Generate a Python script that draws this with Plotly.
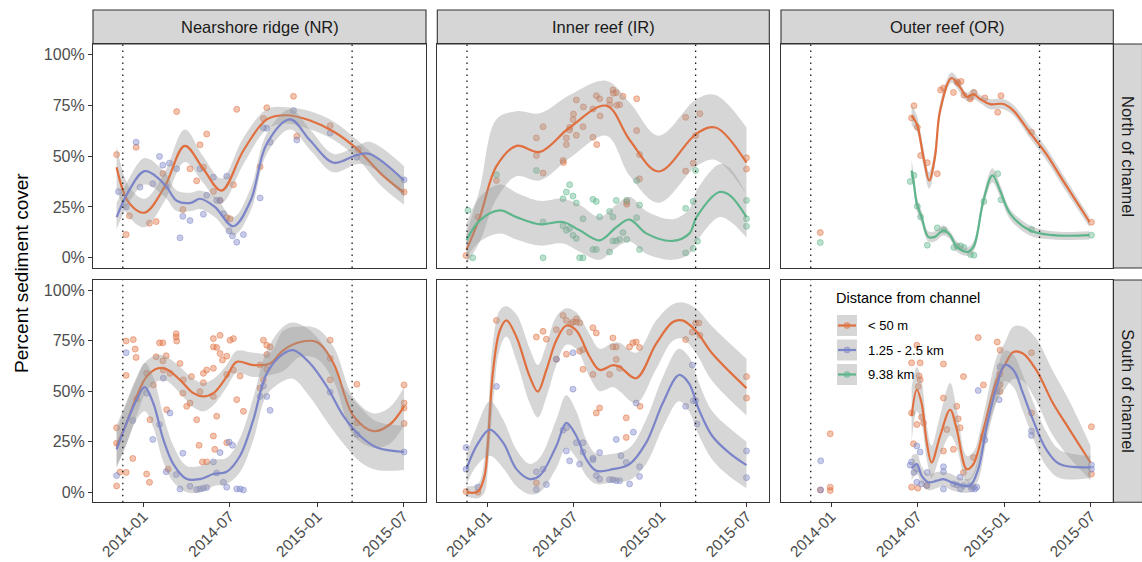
import pandas as pd
import plotly.graph_objects as go

# ---------------------------------------------------------------------------
# Survey data: x = days since 2014-01-01, y = percent sediment cover
# Fits: (day, smoothed fit, lower 95% CI, upper 95% CI)
# ---------------------------------------------------------------------------
ORIGIN = "2014-01-01"

SITES = ["Nearshore ridge (NR)", "Inner reef (IR)", "Outer reef (OR)"]
SIDES = ["North of channel", "South of channel"]
DISTANCES = ["< 50 m", "1.25 - 2.5 km", "9.38 km"]
DIST_COLORS = ["#E06F3F", "#7B84C8", "#5DB58B"]
Y_TICKS = [0, 25, 50, 75, 100]
Y_TICK_LABELS = ["0%", "25%", "50%", "75%", "100%"]
X_TICKS = ["2014-01-01", "2014-07-01", "2015-01-01", "2015-07-01"]
X_TICK_LABELS = ["2014-01", "2014-07", "2015-01", "2015-07"]
PERIOD_BOUNDS = ["2013-11-19", "2015-03-15"]

# --- Nearshore ridge, north ---
NR_N_NEAR_PTS = [(-56, 50.7), (-36, 11.4), (-29, 20.6), (-15, 54.3), (13, 17), (27, 17.8), (41, 41.4),
                 (70, 71.8), (83, 23.7), (98, 43.7), (112, 37.8), (119, 55.5), (126, 44.5), (133, 60.8),
                 (147, 32.6), (161, 28.2), (175, 19.7), (182, 19.2), (189, 35.9), (196, 72.9), (245, 44.7),
                 (252, 68.4), (259, 73.7), (315, 79.3), (322, 59.7), (392, 64.9), (451, 53.2), (547, 32.3)]
NR_N_NEAR_FIT = [(-56, 44.5, 34, 55), (-30, 27, 20, 35), (3, 22.2, 15, 29), (45, 35, 28, 42),
                 (87, 55, 47, 63), (125, 44, 37, 50), (164, 33, 27, 39), (210, 52.7, 46, 59),
                 (259, 68, 63, 73), (301, 70, 66, 74), (350, 67.4, 63, 72), (399, 62, 58, 67),
                 (448, 53.5, 49, 58), (500, 41, 35, 47), (547, 32, 26, 38)]
NR_N_MID_PTS = [(-52, 32.5), (-36, 25), (-15, 56.8), (-7, 34.7), (20, 36.4), (34, 49.8), (41, 45.5),
                (48, 35.1), (55, 46.5), (70, 43.7), (77, 9.8), (83, 20.4), (98, 18.3), (119, 43.7),
                (126, 21.4), (133, 30.7), (147, 39.6), (154, 28.2), (161, 28.2), (168, 21.7), (175, 40.1),
                (180, 13.2), (187, 10.8), (196, 7.7), (210, 11.4), (245, 29.4), (252, 63.8), (259, 63.6),
                (266, 56.8), (315, 72.3), (322, 57.9), (392, 61.3), (448, 49.4), (547, 38.3)]
NR_N_MID_FIT = [(-56, 20, 14, 27), (-30, 33, 27, 39), (3, 42.6, 36, 49), (45, 36, 30, 42),
                (70, 28, 23, 33), (100, 27, 23, 32), (119, 29, 24, 33), (150, 25, 20, 30),
                (189, 15.5, 11, 20), (225, 28, 23, 34), (259, 56, 51, 61), (308, 68, 63, 73),
                (350, 57.6, 53, 63), (399, 46.7, 42, 51), (448, 50.5, 46, 55), (475, 51, 45, 57),
                (547, 38, 30, 45)]

# --- Inner reef, north ---
IR_N_NEAR_PTS = [(-45, 1.1), (-20, 20), (19, 38), (103, 58.9), (103, 50.2), (117, 64.4), (117, 41.6),
                 (159, 47.8), (160, 46.8), (166, 58.9), (166, 55.6), (173, 64.1), (173, 62.8), (180, 67.9),
                 (181, 70.6), (187, 60.2), (187, 77.5), (201, 64.4), (202, 74.1), (222, 59.2), (222, 73.1),
                 (229, 79.6), (230, 55.6), (236, 78.1), (237, 69.7), (257, 77.5), (257, 75.2), (264, 82.4),
                 (265, 80.8), (271, 81.1), (272, 74.9), (278, 75.2), (285, 79.3), (314, 78.1), (314, 62.5),
                 (320, 50.7), (320, 38.8), (293, 27.4), (293, 26.3), (417, 69), (417, 42.6), (433, 46.5),
                 (438, 60), (447, 70.8), (545, 49.1), (545, 43.6)]
IR_N_NEAR_FIT = [(-44, 4, -3, 12), (-16, 20, 8, 34), (19, 45, 29, 68), (61, 55, 40, 72),
                 (110, 52, 38, 71), (173, 64, 49, 80), (250, 74.7, 60, 87), (300, 57.6, 40, 76),
                 (360, 42.4, 27, 60), (440, 61, 45, 78), (480, 64, 48, 80), (545, 46.7, 31, 64)]
IR_N_FAR_PTS = [(-41, 23.3), (-31, 0), (19, 40.8), (103, 42.9), (117, 0), (117, 17.6), (159, 29),
                (166, 32.3), (173, 35.9), (180, 30.3), (187, 26.9), (159, 15.7), (166, 13.5), (173, 14.4),
                (180, 11.1), (187, 9.5), (194, 0), (201, 0), (201, 19.2), (222, 28.7), (229, 27.7),
                (222, 4.1), (229, 4.1), (236, 20.1), (257, 2.9), (257, 22.8), (264, 20.1), (271, 28.2),
                (264, 8.3), (271, 8.3), (278, 9), (285, 12.4), (293, 9), (293, 28.2), (314, 19.7),
                (314, 38), (320, 25.9), (320, 4.1), (417, 24.3), (417, 2.4), (433, 27.7), (433, 4.6),
                (438, 42.9), (442, 8.2), (545, 28.2), (545, 19.2), (545, 15.5)]
IR_N_FAR_FIT = [(-44, 8.6, 0, 17), (-16, 18.4, 8, 30), (26, 23.3, 12, 36), (61, 20, 9, 32),
                (110, 16.5, 6, 28), (159, 17.6, 7, 29), (194, 13.5, 3, 26), (236, 8.6, -1, 20),
                (271, 15, 5, 26), (299, 18.8, 8, 30), (334, 12, 2, 23), (390, 8.3, -1, 19),
                (425, 12, 2, 24), (440, 20, 8, 33), (488, 32.3, 20, 46), (510, 30.7, 18, 44),
                (545, 20, 10, 31)]

# --- Outer reef, north ---
OR_N_NEAR_PTS = [(-23, 12.4), (169, 68.7), (174, 74.7), (181, 64.1), (188, 50.2), (202, 46.7), (223, 41.3),
                 (230, 82.4), (236, 83.4), (257, 81.2), (264, 86.5), (267, 85.8), (273, 86.6), (279, 79.9),
                 (292, 78), (294, 78.8), (300, 81.2), (323, 78.5), (350, 71.5), (357, 79.6), (421, 61.7),
                 (547, 17.5)]
OR_N_NEAR_FIT = [(169, 69.8, 65, 75), (180, 65.7, 62, 70), (194, 49.4, 45, 54), (206, 38, 34, 42),
                 (218, 49.4, 45, 54), (229, 72.3, 69, 76), (253, 88.3, 86, 91), (271, 83.7, 81, 86),
                 (285, 79.1, 77, 81), (299, 80.4, 78, 83), (313, 78, 76, 80), (334, 75.5, 73, 78),
                 (362, 75.5, 73, 78), (383, 72.3, 70, 75), (417, 61.7, 59, 65), (452, 51, 48, 54),
                 (487, 38, 35, 41), (543, 17.6, 15, 20)]
OR_N_FAR_PTS = [(-23, 7.5), (166, 37.5), (174, 40.5), (181, 25.3), (188, 20.1), (202, 6.2), (223, 14.7),
                (237, 13.5), (258, 5.1), (265, 5.7), (272, 5.9), (279, 5.1), (293, 1.6), (300, 1.3),
                (321, 27.7), (350, 41.3), (357, 28.5), (421, 13.9), (547, 11.1)]
OR_N_FAR_FIT = [(169, 42.9, 38, 48), (173, 38, 34, 42), (180, 26.6, 23, 30), (190, 20, 17, 23),
                (204, 10.3, 8, 13), (218, 10.3, 8, 13), (236, 13.5, 11, 16), (250, 11.1, 9, 13),
                (264, 5.4, 3, 8), (285, 2.9, 1, 5), (299, 5.4, 3, 8), (320, 28.2, 25, 31),
                (339, 40.5, 37, 44), (355, 33.1, 30, 36), (376, 21.7, 19, 24), (417, 13.5, 11, 16),
                (466, 11.1, 9, 13), (543, 11.1, 9, 13)]

# --- Nearshore ridge, south ---
NR_S_NEAR_PTS = [(-56, 31.9), (-56, 24.2), (-56, 3.1), (-49, 10), (-36, 9.8), (-36, 57.8), (-36, 74.8),
                 (-22, 16.7), (-21, 75.5), (-17, 70.8), (-15, 66.7), (-14, 46.1), (7, 9), (13, 4.9),
                 (7, 58.8), (14, 35.9), (21, 53.1), (27, 67), (34, 73.9), (41, 73.9), (41, 65), (42, 60.5),
                 (48, 67.5), (49, 40.8), (52, 11.4), (56, 58.8), (69, 78.4), (69, 76.8), (70, 74.8),
                 (77, 63.7), (83, 49), (84, 55.6), (91, 42.5), (98, 44.1), (101, 57.2), (112, 35.9),
                 (117, 23.2), (119, 49.8), (124, 15), (126, 58.8), (126, 54.2), (133, 60.5), (133, 15),
                 (147, 76), (147, 71.9), (147, 61.3), (147, 47.4), (147, 27.8), (150, 21.2), (154, 71.6),
                 (154, 37.6), (161, 77.6), (161, 68.6), (166, 65.4), (175, 58.3), (175, 67.3), (175, 24.5),
                 (182, 75.2), (189, 76), (189, 60.5), (196, 45.8), (203, 57.5), (210, 40), (245, 62.9),
                 (245, 51.5), (252, 75.2), (252, 55.6), (259, 72.7), (259, 68.1), (259, 60.8), (266, 71.9),
                 (392, 75.2), (392, 66.2), (392, 55.6), (448, 53.4), (448, 34.3), (547, 53.1), (547, 44.1),
                 (547, 41.7), (547, 34)]
NR_S_NEAR_FIT = [(-56, 22.9, 13, 33), (-35, 34.3, 24, 45), (-14, 47.4, 38, 57), (7, 57.2, 50, 65),
                 (31, 61.3, 55, 68), (49, 60.8, 55, 67), (77, 55.6, 49, 62), (105, 49, 42, 56),
                 (126, 47.4, 40, 54), (147, 49, 43, 56), (175, 57.2, 52, 63), (196, 64.5, 59, 70),
                 (231, 62.9, 57, 69), (266, 63.7, 58, 69), (294, 70.3, 60, 80), (329, 74.3, 67, 82),
                 (364, 74.3, 66, 81), (399, 63.7, 55, 72), (441, 37.6, 28, 47), (483, 30.2, 22, 39),
                 (517, 33.5, 24, 42), (547, 42.5, 33, 52)]
NR_S_MID_PTS = [(-56, 8.2), (-36, 69), (-22, 35.5), (7, 49), (20, 26.1), (34, 33.5), (42, 56.4), (48, 10.1),
                (56, 39.2), (69, 8.7), (77, 1.6), (83, 19.3), (98, 2.9), (112, 1.3), (119, 1.6), (126, 2),
                (133, 2.3), (147, 15), (154, 9.5), (161, 19.6), (168, 4.9), (175, 2.5), (180, 24.8),
                (187, 23.2), (196, 1.6), (203, 1.6), (210, 1.1), (245, 47.4), (252, 52.6), (259, 47.4),
                (266, 40.5), (392, 49.5), (448, 28.6), (547, 19.9)]
NR_S_MID_FIT = [(-56, 21.2, 12, 30), (-35, 34.3, 24, 44), (-14, 45.8, 36, 56), (3, 52, 40, 64),
                (21, 44, 32, 57), (42, 26.1, 15, 38), (63, 13.9, 5, 23), (91, 6.5, 0, 13),
                (119, 6.5, 0, 13), (147, 9, 3, 16), (175, 10.1, 4, 17), (203, 18, 10, 27),
                (231, 36, 26, 47), (259, 58.8, 48, 70), (294, 68.6, 55, 82), (315, 70.3, 56, 84),
                (350, 63.7, 47, 80), (385, 52.3, 35, 70), (420, 37.6, 24, 52), (455, 27.8, 15, 42),
                (490, 22.1, 11, 35), (547, 19.9, 11, 33)]

# --- Inner reef, south ---
IR_S_NEAR_PTS = [(-45, 0.3), (-20, 0), (19, 85), (103, 76.8), (103, 4.6), (117, 79.6), (124, 75.7),
                 (145, 80.4), (145, 65.8), (159, 87.4), (166, 85), (166, 68.3), (173, 79.2), (176, 83.3),
                 (180, 84.2), (187, 85.8), (187, 84.2), (194, 83.8), (194, 69.8), (201, 70.6), (201, 60.8),
                 (222, 81.4), (222, 58.3), (229, 78.8), (229, 39.2), (236, 41.7), (257, 58.3), (264, 76.3),
                 (264, 71.9), (271, 71.9), (271, 65.7), (278, 61.3), (292, 36.8), (292, 27.1), (299, 71.9),
                 (306, 73.9), (313, 74.3), (320, 71.6), (321, 42.5), (417, 75.5), (431, 79.2), (438, 83.7),
                 (445, 83.7), (447, 77.6), (545, 57.2), (545, 46.6)]
IR_S_NEAR_FIT = [(-44, 0, -2, 3), (-20, 0.3, -3, 4), (-6, 8.2, 0, 17), (1, 24.5, 12, 37),
                 (12, 60.5, 45, 75), (26, 80, 71, 90), (40, 85, 77, 92), (61, 76.8, 65, 88),
                 (89, 57.2, 44, 71), (106, 49.8, 37, 63), (124, 60.5, 47, 73), (145, 75.2, 63, 87),
                 (166, 82.5, 73, 91), (187, 80, 71, 89), (215, 67, 57, 78), (236, 60.5, 50, 71),
                 (264, 62.9, 52, 74), (278, 62.1, 50, 74), (313, 56.4, 44, 69), (355, 73.5, 61, 85),
                 (390, 84.2, 75, 93), (410, 85, 76, 94), (438, 80, 69, 91), (473, 68.6, 55, 82),
                 (545, 51.5, 38, 66)]
IR_S_MID_PTS = [(-45, 22.1), (-45, 11.4), (-20, 2.5), (19, 52.3), (103, 10.1), (103, 1.3), (117, 11.4),
                (124, 3.8), (145, 65.8), (159, 30.7), (166, 31.9), (166, 20.4), (173, 15.5), (180, 69),
                (180, 51), (187, 24.5), (194, 13.9), (201, 24.5), (201, 19.9), (222, 16.8), (222, 16),
                (229, 8.2), (236, 19.6), (236, 6.5), (257, 6.2), (264, 6.2), (271, 26.1), (271, 5.7),
                (278, 5.7), (281, 18), (292, 14.7), (299, 4.1), (307, 29.7), (313, 44.1), (320, 12.6),
                (320, 7.8), (417, 42.5), (431, 62.9), (433, 45.3), (438, 45.4), (441, 33.8), (545, 20.4),
                (545, 7.2)]
IR_S_MID_FIT = [(-44, 11.4, 4, 19), (-23, 22.9, 13, 32), (5, 31, 18, 45), (33, 24.5, 12, 36),
                (61, 11.4, 3, 21), (89, 6.5, -1, 14), (110, 8.2, 0, 17), (145, 22.9, 12, 36),
                (166, 34.3, 22, 48), (187, 27.8, 17, 40), (208, 16.3, 8, 26), (229, 10.6, 4, 19),
                (264, 11.4, 5, 19), (299, 13.9, 6, 22), (334, 24.5, 14, 36), (369, 44.1, 32, 57),
                (403, 58, 45, 71), (424, 53.9, 40, 67), (445, 40.8, 28, 54), (473, 27.8, 16, 40),
                (508, 19.6, 8, 32), (545, 13.4, 2, 25)]

# --- Outer reef, south ---
OR_S_NEAR_PTS = [(-23, 1.1), (-2, 2.5), (-2, 0.8), (-2, 28.9), (169, 64), (169, 39.2), (169, 2.5),
                 (173, 24), (180, 72.7), (180, 33.5), (182, 2), (183, 52.3), (185, 57.5), (187, 64),
                 (187, 55.6), (190, 37.1), (194, 34.3), (201, 3.3), (236, 63.4), (236, 46.6), (236, 20.4),
                 (243, 31), (257, 21.2), (264, 42.5), (267, 36.3), (271, 31.9), (278, 57.2), (278, 9.8),
                 (299, 17.2), (309, 76.5), (320, 53.1), (349, 74.3), (355, 70.3), (355, 58.5), (355, 53.1),
                 (355, 49.8), (421, 69), (421, 39.2), (547, 32.4), (547, 9)]
OR_S_NEAR_FIT = [(169, 37.6, 25, 52), (180, 50.7, 40, 62), (190, 44.1, 34, 55), (201, 24.5, 16, 33),
                 (211, 14.7, 7, 23), (229, 27.8, 18, 38), (250, 40.8, 28, 54), (264, 31, 22, 41),
                 (285, 11.4, 5, 18), (299, 13.9, 8, 20), (320, 31, 24, 38), (348, 55.6, 45, 67),
                 (365, 62.9, 51, 74), (383, 69.4, 56, 82), (403, 68.6, 55, 82), (431, 60.5, 45, 76),
                 (466, 44.1, 28, 60), (501, 31, 17, 45), (545, 14.7, 6, 23)]
OR_S_MID_PTS = [(-22, 15.5), (-22, 1.1), (166, 13.4), (169, 15), (174, 9.8), (180, 22.9), (180, 11.4),
                (180, 4.9), (187, 19.9), (190, 4.1), (201, 3.3), (202, 9.8), (236, 12.6), (236, 10.1),
                (236, 1.6), (257, 4.1), (264, 3.6), (271, 7.4), (272, 1.6), (278, 3.3), (292, 3.3),
                (295, 1.6), (299, 2.5), (302, 1.6), (306, 2.5), (309, 50.3), (320, 27.8), (323, 25.8),
                (349, 49.8), (353, 45.8), (355, 62.1), (421, 30.2), (421, 28.1), (547, 13.4), (547, 11.4)]
OR_S_MID_FIT = [(169, 11.8, 6, 18), (180, 13.9, 9, 19), (190, 8.2, 4, 13), (204, 4.9, 1, 9),
                (222, 5.7, 2, 10), (236, 6.5, 3, 10), (253, 4.9, 1, 9), (271, 3.6, 0, 7),
                (292, 3.3, 0, 7), (309, 11.4, 6, 17), (327, 32.7, 26, 39), (348, 52.3, 45, 60),
                (365, 62.9, 55, 70), (383, 60.5, 52, 68), (403, 49, 40, 58), (424, 35.9, 27, 45),
                (452, 21.2, 13, 30), (480, 13.9, 7, 21), (545, 12.3, 7, 18)]

# (row, col, [(distance index, points, fit), ...])
PANELS = [
    (0, 0, [(0, NR_N_NEAR_PTS, NR_N_NEAR_FIT), (1, NR_N_MID_PTS, NR_N_MID_FIT)]),
    (0, 1, [(0, IR_N_NEAR_PTS, IR_N_NEAR_FIT), (2, IR_N_FAR_PTS, IR_N_FAR_FIT)]),
    (0, 2, [(0, OR_N_NEAR_PTS, OR_N_NEAR_FIT), (2, OR_N_FAR_PTS, OR_N_FAR_FIT)]),
    (1, 0, [(0, NR_S_NEAR_PTS, NR_S_NEAR_FIT), (1, NR_S_MID_PTS, NR_S_MID_FIT)]),
    (1, 1, [(0, IR_S_NEAR_PTS, IR_S_NEAR_FIT), (1, IR_S_MID_PTS, IR_S_MID_FIT)]),
    (1, 2, [(0, OR_S_NEAR_PTS, OR_S_NEAR_FIT), (1, OR_S_MID_PTS, OR_S_MID_FIT)]),
]

# ---------------------------------------------------------------------------
# Page geometry (pixels)
# ---------------------------------------------------------------------------
W, H = 1142, 562
COL_PX = [(93, 426), (437.3, 769.3), (781, 1113.3)]
ROW_PX = [(44, 268), (280, 502.3)]
STRIP_TOP = (10, 44)
STRIP_RIGHT = (1113.3, 1142.5)
X_RANGE = ["2013-09-17 12:00", "2015-08-17"]
Y_RANGE = [-5, 105]

FONT = "Liberation Sans, Arial, Helvetica, sans-serif"
BORDER = "#333333"
STRIP_FILL = "#D6D6D6"
RIBBON = "rgba(153,153,153,0.4)"


def px_x(p):
    return p / W


def px_y(p):
    return 1 - p / H


def rgba(hex_color, a):
    h = hex_color.lstrip("#")
    r, g, b = int(h[0:2], 16), int(h[2:4], 16), int(h[4:6], 16)
    return f"rgba({r},{g},{b},{a})"


def to_dates(days):
    base = pd.Timestamp(ORIGIN)
    return [base + pd.Timedelta(days=float(d)) for d in days]


fig = go.Figure()

for row, col, series in PANELS:
    idx = row * 3 + col + 1
    xa = "x" if idx == 1 else f"x{idx}"
    ya = "y" if idx == 1 else f"y{idx}"

    # raw observations underneath
    for d_i, pts, _ in series:
        c = DIST_COLORS[d_i]
        fig.add_trace(go.Scatter(
            x=to_dates([p[0] for p in pts]), y=[p[1] for p in pts],
            mode="markers", xaxis=xa, yaxis=ya, showlegend=False, hoverinfo="skip",
            marker=dict(size=6, color=rgba(c, 0.42), line=dict(color=rgba(c, 0.55), width=0.9)),
        ))

    # smoothed trend with confidence band
    for d_i, _, fit in series:
        c = DIST_COLORS[d_i]
        xs = to_dates([f[0] for f in fit])
        fig.add_trace(go.Scatter(
            x=xs, y=[f[2] for f in fit], mode="lines", xaxis=xa, yaxis=ya,
            line=dict(width=0, shape="spline", smoothing=1.0), showlegend=False, hoverinfo="skip",
        ))
        fig.add_trace(go.Scatter(
            x=xs, y=[f[3] for f in fit], mode="lines", xaxis=xa, yaxis=ya, fill="tonexty",
            fillcolor=RIBBON, line=dict(width=0, shape="spline", smoothing=1.0),
            showlegend=False, hoverinfo="skip",
        ))
        fig.add_trace(go.Scatter(
            x=xs, y=[f[1] for f in fit], mode="lines", xaxis=xa, yaxis=ya,
            line=dict(color=c, width=2.2, shape="spline", smoothing=1.0),
            showlegend=False, hoverinfo="skip",
        ))

shapes = []
annotations = []
layout_axes = {}

for row in range(2):
    for col in range(3):
        idx = row * 3 + col + 1
        xkey = "xaxis" if idx == 1 else f"xaxis{idx}"
        ykey = "yaxis" if idx == 1 else f"yaxis{idx}"
        xa = "x" if idx == 1 else f"x{idx}"
        ya = "y" if idx == 1 else f"y{idx}"
        x0, x1 = COL_PX[col]
        y0, y1 = ROW_PX[row]
        bottom = row == 1
        left = col == 0
        layout_axes[xkey] = dict(
            domain=[px_x(x0), px_x(x1)], anchor=ya, type="date", range=X_RANGE,
            showline=True, mirror=True, linecolor=BORDER, linewidth=1.1,
            showgrid=False, zeroline=False, automargin=False,
            tickvals=X_TICKS, ticktext=X_TICK_LABELS,
            ticks="outside" if bottom else "", ticklen=4, tickwidth=1.1, tickcolor=BORDER,
            showticklabels=bottom, tickangle=-45, ticklabelstandoff=-6,
            tickfont=dict(family=FONT, size=15.5, color="#4D4D4D"),
        )
        layout_axes[ykey] = dict(
            domain=[px_y(y1), px_y(y0)], anchor=xa, range=Y_RANGE,
            showline=True, mirror=True, linecolor=BORDER, linewidth=1.1,
            showgrid=False, zeroline=False, automargin=False,
            tickvals=Y_TICKS, ticktext=Y_TICK_LABELS,
            ticks="outside" if left else "", ticklen=4, tickwidth=1.1, tickcolor=BORDER,
            showticklabels=left,
            tickfont=dict(family=FONT, size=16, color="#4D4D4D"),
        )
        # dotted period boundaries
        for d in PERIOD_BOUNDS:
            shapes.append(dict(
                type="line", xref=xa, yref=f"{ya} domain", x0=d, x1=d, y0=0, y1=1,
                line=dict(color="#1A1A1A", width=1.3, dash="1.5px,4.5px"), layer="above",
            ))

# column strips
for col, label in enumerate(SITES):
    x0, x1 = COL_PX[col]
    shapes.append(dict(type="rect", xref="paper", yref="paper",
                       x0=px_x(x0), x1=px_x(x1), y0=px_y(STRIP_TOP[1]), y1=px_y(STRIP_TOP[0]),
                       fillcolor=STRIP_FILL, line=dict(color=BORDER, width=1.1), layer="below"))
    annotations.append(dict(xref="paper", yref="paper", x=px_x((x0 + x1) / 2),
                            y=px_y(sum(STRIP_TOP) / 2), text=label, showarrow=False,
                            font=dict(family=FONT, size=16.5, color="#1A1A1A"),
                            xanchor="center", yanchor="middle"))

# row strips
for row, label in enumerate(SIDES):
    y0, y1 = ROW_PX[row]
    shapes.append(dict(type="rect", xref="paper", yref="paper",
                       x0=px_x(STRIP_RIGHT[0]), x1=px_x(STRIP_RIGHT[1]), y0=px_y(y1), y1=px_y(y0),
                       fillcolor=STRIP_FILL, line=dict(color=BORDER, width=1.1), layer="below"))
    annotations.append(dict(xref="paper", yref="paper", x=px_x(1128), y=px_y((y0 + y1) / 2),
                            text=label, showarrow=False, textangle=90,
                            font=dict(family=FONT, size=16.5, color="#1A1A1A"),
                            xanchor="center", yanchor="middle"))

# y-axis title
annotations.append(dict(xref="paper", yref="paper", x=px_x(21), y=px_y(273),
                        text="Percent sediment cover", showarrow=False, textangle=-90,
                        font=dict(family=FONT, size=19, color="#000000"),
                        xanchor="center", yanchor="middle"))

# legend drawn inside the lower-right panel
LEG_X0, LEG_KEY_W = 837, 20
LEG_ROWS = [(315, 336), (339.5, 360.5), (364, 385)]
annotations.append(dict(xref="paper", yref="paper", x=px_x(834), y=px_y(298),
                        text="Distance from channel", showarrow=False,
                        font=dict(family=FONT, size=14.5, color="#000000"),
                        xanchor="left", yanchor="middle"))
for (ky0, ky1), name, c in zip(LEG_ROWS, DISTANCES, DIST_COLORS):
    cy = (ky0 + ky1) / 2
    shapes.append(dict(type="rect", xref="paper", yref="paper",
                       x0=px_x(LEG_X0), x1=px_x(LEG_X0 + LEG_KEY_W), y0=px_y(ky1), y1=px_y(ky0),
                       fillcolor=RIBBON, line=dict(width=0), layer="above"))
    shapes.append(dict(type="line", xref="paper", yref="paper",
                       x0=px_x(LEG_X0 + 1), x1=px_x(LEG_X0 + LEG_KEY_W - 1), y0=px_y(cy), y1=px_y(cy),
                       line=dict(color=c, width=2.2), layer="above"))
    shapes.append(dict(type="circle", xref="paper", yref="paper",
                       x0=px_x(LEG_X0 + LEG_KEY_W / 2 - 3), x1=px_x(LEG_X0 + LEG_KEY_W / 2 + 3),
                       y0=px_y(cy + 3), y1=px_y(cy - 3),
                       fillcolor=rgba(c, 0.5), line=dict(color=rgba(c, 0.6), width=0.8), layer="above"))
    annotations.append(dict(xref="paper", yref="paper", x=px_x(866), y=px_y(cy),
                            text=name, showarrow=False,
                            font=dict(family=FONT, size=13, color="#000000"),
                            xanchor="left", yanchor="middle"))

fig.update_layout(
    width=W, height=H,
    margin=dict(l=0, r=0, t=0, b=0, pad=0, autoexpand=False),
    paper_bgcolor="white", plot_bgcolor="white",
    showlegend=False,
    shapes=shapes, annotations=annotations,
    font=dict(family=FONT),
    **layout_axes,
)

fig.write_html("out.html")
